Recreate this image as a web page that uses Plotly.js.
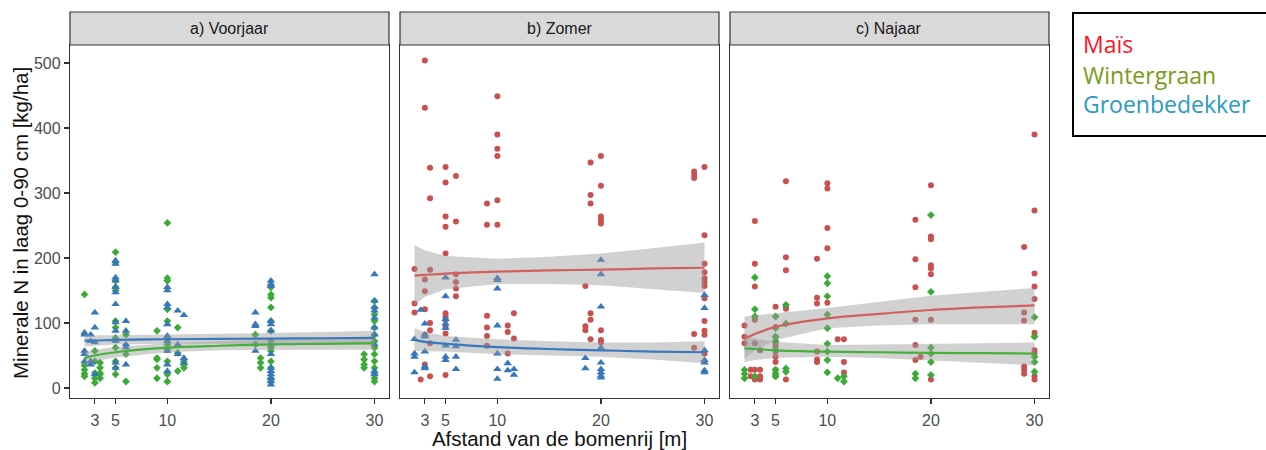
<!DOCTYPE html>
<html>
<head>
<meta charset="utf-8">
<script src="https://cdn.plot.ly/plotly-3.0.1.min.js"></script>
<style>html,body{margin:0;padding:0;background:#fff;}#chart{width:1266px;height:450px;}</style>
</head>
<body>
<div id="chart"></div>
<script>
// ---------- categories / labels ----------
const panelTitles = ['a) Voorjaar', 'b) Zomer', 'c) Najaar'];
const legendLabels = ['Maïs', 'Wintergraan', 'Groenbedekker'];
const xTickVals = [3, 5, 10, 20, 30];
const yTickVals = [0, 100, 200, 300, 400, 500];
const xTitle = 'Afstand van de bomenrij [m]';
const yTitle = 'Minerale N in laag 0-90 cm [kg/ha]';

// ---------- a) Voorjaar ----------
const vjWinterX = [2, 3, 3.5, 5, 6, 9, 10, 11, 11.6, 18.5, 19, 20, 29, 30];
const vjWinterY = [
  [144, 35, 28, 22, 18], [8, 57, 41, 15, 23], [31, 23, 15, 39, 21],
  [209, 193, 165, 155, 150, 103, 93, 77, 62, 41, 31, 21], [82, 52, 10],
  [88, 46, 44, 31, 15], [254, 169, 165, 121, 103, 77, 67, 59, 41, 21, 10],
  [93, 54, 26], [41, 36, 31], [82, 67], [46, 39, 31],
  [155, 144, 139, 124, 103, 88, 72, 62, 57, 41, 31, 15, 10], [52, 44, 36, 31],
  [134, 124, 113, 103, 93, 82, 72, 62, 52, 41, 31, 21, 15, 10]
];
const vjGroenX = [2, 2.6, 3, 5, 6, 10, 11, 11.6, 18.5, 20, 30];
const vjGroenY = [
  [85, 82, 57, 52, 41], [82, 72, 41, 36], [116, 93, 70, 21],
  [196, 191, 170, 165, 155, 147, 129, 101, 88, 72, 39, 31], [103, 88, 67, 62, 36],
  [155, 150, 129, 124, 98, 80, 72, 57, 36, 26], [119, 67, 52], [112, 46, 39],
  [116, 98, 95, 57], [165, 160, 157, 103, 98, 88, 67, 52, 31, 26, 21, 15, 10, 5],
  [175, 134, 124, 119, 108, 93, 82, 67, 26, 21]
];

// ---------- b) Zomer ----------
const zmMaisX = [2, 2.6, 3, 3.5, 5, 6, 9, 10, 11, 11.6, 18.5, 19, 20, 29, 30];
const zmMaisY = [
  [183, 130, 116], [13], [504, 431, 167, 149, 121, 82, 36], [339, 292, 182, 100, 89, 69, 18],
  [340, 316, 264, 248, 207, 115, 110, 105, 94, 84, 20], [326, 256, 175, 163, 153, 141],
  [284, 251, 111, 93, 80, 65], [449, 390, 368, 357, 289, 251], [96, 86, 53], [115, 76],
  [157, 95, 89], [347, 297, 284, 115, 105, 75], [357, 311, 264, 259, 253, 89, 74, 70],
  [333, 328, 323, 83, 62], [340, 235, 191, 178, 169, 163, 157, 138, 103, 88, 82, 53]
];
const zmGroenX = [2, 2.6, 3, 5, 6, 10, 11, 11.6, 18.5, 20, 30];
const zmGroenY = [
  [75, 53, 48, 24], [120], [99, 82, 79, 56, 33, 30], [170, 141, 106, 99, 92, 65, 48, 43],
  [74, 64, 48, 29], [169, 166, 153, 96, 53, 29, 14], [38, 27], [29, 20], [46, 30],
  [197, 175, 125, 62, 39, 29, 24, 19, 16], [143, 123, 58, 43, 39, 27, 24]
];

// ---------- c) Najaar ----------
const njMaisX = [2, 2.6, 3, 3.5, 5, 6, 9, 10, 11, 11.6, 18.5, 19, 20, 29, 30];
const njMaisY = [
  [96, 79, 69], [28, 18], [257, 191, 156, 108, 105, 69, 28, 13], [58, 28, 18, 13],
  [125, 94, 79, 69, 64, 56, 48, 40, 28, 22, 18], [318, 201, 181, 125, 122, 13],
  [199, 139, 130, 56, 44, 40], [315, 307, 246, 215, 131], [75], [75, 40, 24],
  [259, 198, 155, 105, 66, 43], [48], [312, 233, 229, 189, 184, 175, 105, 13],
  [217, 116, 104, 33, 28, 22], [390, 273, 176, 156, 137, 85, 80, 58, 53, 18, 13]
];
const njWinterX = [2, 3, 5, 6, 10, 11, 11.6, 18.5, 20, 30];
const njWinterY = [
  [28, 22, 15], [170, 121, 110, 18], [110, 92, 79, 72, 59, 28, 22, 18], [128, 99, 30, 25],
  [172, 161, 141, 113, 92, 68, 56, 43, 24], [15], [18, 10], [22, 15],
  [266, 148, 62, 53, 40, 20], [109, 79, 48, 40, 25]
];

// ---------- smoothed fits ----------
const fitX = [2, 3, 5, 10, 15, 20, 25, 30];
const vjGroenFit = [73, 73, 74, 75, 75.5, 76, 76.5, 77];
const vjGroenLo  = [64, 65, 67, 68, 68, 68, 67, 66];
const vjGroenHi  = [82, 81, 81, 82, 83, 84, 86, 88];
const vjWinterFit = [46, 50, 55, 62, 65, 67, 68, 69];
const vjWinterLo  = [36, 41, 47, 55, 58, 59, 59, 59];
const vjWinterHi  = [56, 59, 63, 69, 72, 75, 77, 79];
const zmMaisFit = [173, 174, 176, 179, 181, 182, 184, 185];
const zmMaisLo  = [128, 140, 152, 160, 160, 158, 152, 146];
const zmMaisHi  = [220, 212, 203, 199, 202, 207, 215, 224];
const zmGroenFit = [74, 71, 68, 63, 60, 58, 56, 55];
const zmGroenLo  = [57, 57, 56, 52, 50, 48, 44, 38];
const zmGroenHi  = [92, 86, 80, 75, 72, 70, 70, 72];
const njMaisFit = [76, 83, 94, 107, 114, 120, 124, 127];
const njMaisLo  = [45, 58, 74, 92, 96, 98, 98, 98];
const njMaisHi  = [110, 112, 115, 123, 132, 142, 148, 154];
const njWinterFit = [61, 60, 58, 56, 55, 54, 53.5, 53];
const njWinterLo  = [40, 43, 46, 48, 46, 43, 39, 35];
const njWinterHi  = [80, 76, 71, 66, 67, 68, 69, 70];

// ---------- styles ----------
const col = {
  mais:   {pt: '#c9504f', line: '#d0605e', sym: 'circle', size: 6},
  winter: {pt: '#3bab38', line: '#45b13c', sym: 'diamond', size: 6},
  groen:  {pt: '#3676bb', line: '#3a78bd', sym: 'triangle-up', size: 7.5}
};
const legendColors = ['#ff1428', '#7b9a16', '#2a9ac4'];
const baseFont = 'Liberation Sans, Arial, sans-serif';

function flatten(xs, ys) {
  const X = [], Y = [];
  xs.forEach((x, i) => ys[i].forEach(v => { X.push(x); Y.push(v); }));
  return {X, Y};
}
const traces = [];
function pts(xs, ys, kind, ax) {
  const f = flatten(xs, ys), c = col[kind];
  traces.push({type: 'scatter', mode: 'markers', x: f.X, y: f.Y, xaxis: ax[0], yaxis: ax[1],
    showlegend: false, hoverinfo: 'skip',
    marker: {symbol: c.sym, size: c.size, color: c.pt, line: {width: 0}}});
}
const ribbons = [], lines = [];
function smooth(fit, lo, hi, kind, ax) {
  ribbons.push({type: 'scatter', mode: 'lines', x: fitX.concat(fitX.slice().reverse()),
    y: hi.concat(lo.slice().reverse()), fill: 'toself', fillcolor: 'rgba(153,153,153,0.45)',
    line: {width: 0}, xaxis: ax[0], yaxis: ax[1], showlegend: false, hoverinfo: 'skip'});
  lines.push({type: 'scatter', mode: 'lines', x: fitX, y: fit, line: {color: col[kind].line, width: 2.2, shape: 'spline'},
    xaxis: ax[0], yaxis: ax[1], showlegend: false, hoverinfo: 'skip'});
}
const A = ['x', 'y'], B = ['x2', 'y2'], C = ['x3', 'y3'];
pts(vjWinterX, vjWinterY, 'winter', A);
pts(vjGroenX, vjGroenY, 'groen', A);
pts(zmMaisX, zmMaisY, 'mais', B);
pts(zmGroenX, zmGroenY, 'groen', B);
pts(njMaisX, njMaisY, 'mais', C);
pts(njWinterX, njWinterY, 'winter', C);
smooth(vjGroenFit, vjGroenLo, vjGroenHi, 'groen', A);
smooth(vjWinterFit, vjWinterLo, vjWinterHi, 'winter', A);
smooth(zmMaisFit, zmMaisLo, zmMaisHi, 'mais', B);
smooth(zmGroenFit, zmGroenLo, zmGroenHi, 'groen', B);
smooth(njMaisFit, njMaisLo, njMaisHi, 'mais', C);
smooth(njWinterFit, njWinterLo, njWinterHi, 'winter', C);

const W = 1266, H = 450;
const panelsPx = [[70, 389], [400, 719], [730, 1049]];
const yDom = [(H - 398) / H, (H - 45) / H];
const stripTop = (H - 12) / H;
const tickFont = {family: baseFont, size: 16, color: '#4d4d4d'};

function xa(i) {
  return {domain: [panelsPx[i][0] / W, panelsPx[i][1] / W], range: [0.6, 31.4],
    tickvals: xTickVals, ticktext: xTickVals.map(String), ticks: 'outside', ticklen: 5, tickwidth: 1.2,
    tickcolor: '#333', showline: true, mirror: true, linecolor: '#333', linewidth: 1.2,
    ticklabelstandoff: 3,
    showgrid: false, zeroline: false, tickfont: tickFont, anchor: ['y', 'y2', 'y3'][i], fixedrange: true};
}
function ya(i) {
  return {domain: yDom, range: [-15.4, 527.7], tickvals: yTickVals, ticks: i === 0 ? 'outside' : '',
    ticklen: 5, tickwidth: 1.2, tickcolor: '#333', showticklabels: i === 0, showline: true, mirror: true,
    linecolor: '#333', linewidth: 1.2, showgrid: false, zeroline: false, tickfont: tickFont,
    anchor: ['x', 'x2', 'x3'][i], fixedrange: true};
}
const layout = {
  width: W, height: H, margin: {l: 0, r: 0, t: 0, b: 0},
  paper_bgcolor: '#fff', plot_bgcolor: '#fff', showlegend: false,
  xaxis: xa(0), xaxis2: Object.assign(xa(1), {title: {text: xTitle, standoff: 0,
    font: {family: baseFont, size: 20.5, color: '#111'}}}), xaxis3: xa(2),
  yaxis: ya(0), yaxis2: ya(1), yaxis3: ya(2),
  shapes: [], annotations: []
};
// y-axis title
layout.annotations.push({xref: 'paper', yref: 'paper', x: 20 / W, y: (H - 223) / H, text: yTitle,
  textangle: -90, showarrow: false, xanchor: 'center', yanchor: 'middle',
  font: {family: baseFont, size: 20.5, color: '#111'}});
panelsPx.forEach((p, i) => {
  layout.shapes.push({type: 'rect', xref: 'paper', yref: 'paper', x0: p[0] / W, x1: p[1] / W,
    y0: yDom[1], y1: stripTop, fillcolor: '#d9d9d9', line: {color: '#333', width: 1.2}, layer: 'above'});
  layout.annotations.push({xref: 'paper', yref: 'paper', x: (p[0] + p[1]) / 2 / W, y: (yDom[1] + stripTop) / 2,
    text: panelTitles[i], showarrow: false, xanchor: 'center', yanchor: 'middle',
    font: {family: baseFont, size: 16, color: '#1a1a1a'}});
});
// legend box
layout.shapes.push({type: 'rect', xref: 'paper', yref: 'paper', x0: 1073 / W, x1: 1.01,
  y0: (H - 136) / H, y1: (H - 13) / H, line: {color: '#000', width: 2}, fillcolor: 'rgba(0,0,0,0)'});
const legY = [44, 75, 104];
legendLabels.forEach((t, i) => {
  layout.annotations.push({xref: 'paper', yref: 'paper', x: 1081 / W, y: (H - legY[i]) / H, text: t,
    showarrow: false, xanchor: 'left', yanchor: 'middle',
    font: {family: 'Open Sans, Noto Sans, sans-serif', size: 23, color: legendColors[i]}});
});

Plotly.newPlot('chart', traces.concat(ribbons, lines), layout, {staticPlot: true, displayModeBar: false});
</script>
</body>
</html>
